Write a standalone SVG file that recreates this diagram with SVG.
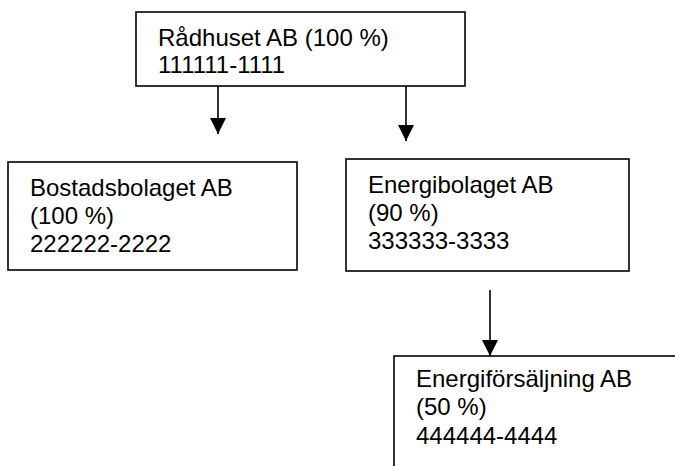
<svg xmlns="http://www.w3.org/2000/svg" width="675" height="466" viewBox="0 0 675 466">
<style>
.box{fill:#fff;stroke:#000;stroke-width:1.6}
.t{font-family:"Liberation Sans",Arial,sans-serif;font-size:24px;fill:#000}
.c{stroke:#000;stroke-width:1.6;fill:none;marker-end:url(#ah)}
</style>
<defs>
<marker id="ah" markerUnits="userSpaceOnUse" markerWidth="16" markerHeight="16" viewBox="0 0 16 16" refX="16" refY="8" orient="auto">
<path d="M0,0 L16,8 L0,16 Z" fill="#000"/>
</marker>
</defs>
<rect width="675" height="466" fill="#fff"/>
<g id="connectors">
<line class="c" x1="218" y1="86" x2="218" y2="134"/>
<line class="c" x1="406" y1="83" x2="406" y2="141"/>
<line class="c" x1="490" y1="290" x2="490" y2="356"/>
</g>
<g id="radhuset">
<rect class="box" x="136" y="12" width="329" height="74"/>
<text class="t" x="158" y="46">Rådhuset AB (100 %)</text>
<text class="t" x="158" y="73">111111-1111</text>
</g>
<g id="bostadsbolaget">
<rect class="box" x="8" y="162" width="289" height="108"/>
<text class="t" x="30" y="196">Bostadsbolaget AB</text>
<text class="t" x="30" y="224">(100 %)</text>
<text class="t" x="30" y="252">222222-2222</text>
</g>
<g id="energibolaget">
<rect class="box" x="346" y="159" width="283" height="112"/>
<text class="t" x="368" y="193">Energibolaget AB</text>
<text class="t" x="368" y="221">(90 %)</text>
<text class="t" x="368" y="249">333333-3333</text>
</g>
<g id="energiforsaljning">
<rect class="box" x="394" y="356" width="320" height="150"/>
<text class="t" x="416" y="387">Energiförsäljning AB</text>
<text class="t" x="416" y="415">(50 %)</text>
<text class="t" x="416" y="444">444444-4444</text>
</g>
</svg>
